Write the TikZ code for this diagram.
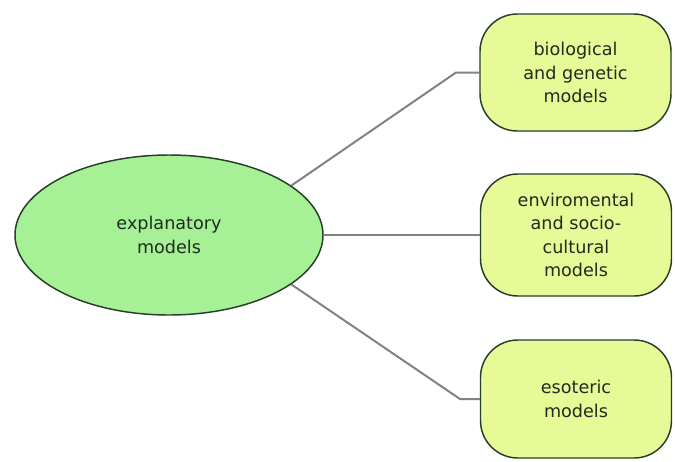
\documentclass[tikz,border=0pt]{standalone}
\usepackage{fontspec}
\setmainfont{DejaVu Sans}
\usetikzlibrary{shapes.geometric}
\definecolor{ellfill}{RGB}{166,240,150}
\definecolor{boxfill}{RGB}{232,250,152}
\definecolor{edge}{RGB}{40,62,40}
\definecolor{txt}{RGB}{30,44,30}
\definecolor{conn}{RGB}{130,130,130}
\tikzset{
  mainell/.style={ellipse, draw=edge, line width=1.1pt, fill=ellfill, inner sep=0pt,
    minimum width=308*0.75pt, minimum height=160*0.75pt, text=txt, align=center,
    font=\fontsize{13.2}{17.5}\selectfont},
  leafbox/.style={rectangle, rounded corners=28pt, draw=edge, line width=1.1pt, fill=boxfill,
    inner sep=0pt, minimum width=191*0.75pt, text=txt, align=center,
    font=\fontsize{13.2}{17.5}\selectfont},
  link/.style={draw=conn, line width=1.5pt}
}
\begin{document}
\begin{tikzpicture}[x=0.75pt,y=-0.75pt]
\useasboundingbox (0,0) rectangle (675,461);
\node[mainell] (ell) at (169,235) {explanatory\\models};
\node[leafbox, minimum height=117*0.75pt] (b1) at (575.5,72.5) {biological\\and genetic\\models};
\node[leafbox, minimum height=122*0.75pt] (b2) at (576,235) {enviromental\\and socio-\\cultural\\models};
\node[leafbox, minimum height=118*0.75pt] (b3) at (576,399) {esoteric\\models};
\coordinate (k1) at (456,72.5);
\coordinate (k3) at (460,399);
\draw[link] (ell.22) -- (k1) -- (b1.west);
\draw[link] (ell.east) -- (b2.west);
\draw[link] (ell.-22) -- (k3) -- (b3.west);
\end{tikzpicture}
\end{document}
